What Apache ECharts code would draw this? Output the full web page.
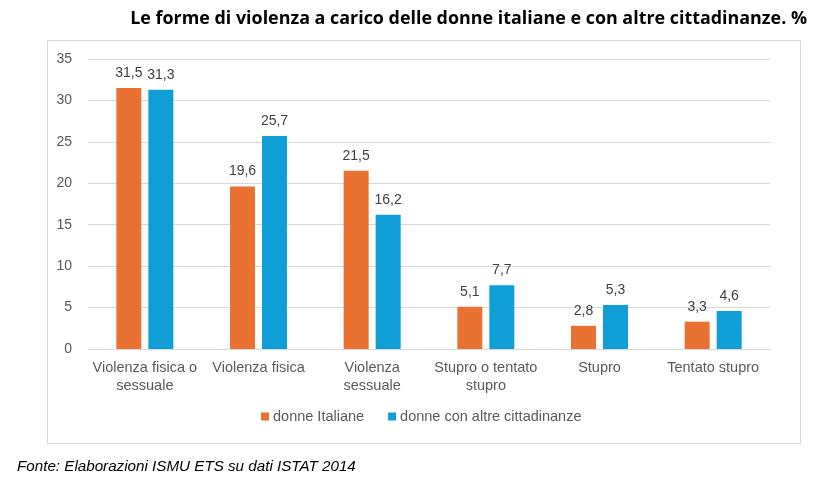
<!DOCTYPE html>
<html><head><meta charset="utf-8">
<script src="https://cdn.jsdelivr.net/npm/echarts@6/dist/echarts.min.js"></script>
<style>html,body{margin:0;padding:0;background:#fff}#c{width:823px;height:492px}</style>
</head><body><div id="c"></div>
<script>
const categories = ['Violenza fisica o\nsessuale', 'Violenza fisica', 'Violenza\nsessuale', 'Stupro o tentato\nstupro', 'Stupro', 'Tentato stupro'];
const italiane = [31.5, 19.6, 21.5, 5.1, 2.8, 3.3];
const altre = [31.3, 25.7, 16.2, 7.7, 5.3, 4.6];
const seriesNames = ['donne Italiane', 'donne con altre cittadinanze'];
const titleText = 'Le forme di violenza a carico delle donne italiane e con altre cittadinanze. %';
const sourceText = 'Fonte: Elaborazioni ISMU ETS su dati ISTAT 2014';

const FONT = 'Liberation Sans';
const chart = echarts.init(document.getElementById('c'));
const lbl = {
  show: true, position: 'top', distance: 8,
  color: '#404040', fontSize: 14, fontFamily: FONT,
  formatter: p => String(p.value).replace('.', ',')
};
chart.setOption({
  animation: false,
  textStyle: { fontFamily: FONT },
  title: {
    text: titleText, right: 11, top: 5,
    textStyle: { fontSize: 17.9, fontWeight: 'bold', color: '#000', fontFamily: 'Open Sans' }
  },
  graphic: [
    { type: 'rect', shape: { x: 47.5, y: 40.5, width: 753, height: 403 },
      style: { fill: 'none', stroke: '#d9d9d9', lineWidth: 1 }, z: -1 },
    { type: 'text', left: 17, top: 459,
      style: { text: sourceText, font: 'italic 15.2px "Liberation Sans"', fill: '#000' } }
  ],
  legend: {
    data: seriesNames, bottom: 63, left: 256,
    itemWidth: 8, itemHeight: 8, itemGap: 24, icon: 'rect',
    textStyle: { color: '#595959', fontSize: 14.5, fontFamily: FONT, padding: [0, 0, 0, -1] }
  },
  grid: { left: 88, right: 53, top: 59, bottom: 143 },
  xAxis: {
    type: 'category', data: categories,
    axisLine: { lineStyle: { color: '#d9d9d9' } },
    axisTick: { show: false },
    axisLabel: { color: '#595959', fontSize: 14.5, fontFamily: FONT, margin: 10, lineHeight: 18, interval: 0 }
  },
  yAxis: {
    type: 'value', min: 0, max: 35, interval: 5,
    axisLine: { show: false }, axisTick: { show: false },
    splitLine: { lineStyle: { color: '#d9d9d9' } },
    axisLabel: { color: '#595959', fontSize: 14, fontFamily: FONT, margin: 16 }
  },
  series: [
    { name: seriesNames[0], type: 'bar', data: italiane, barWidth: 25, barGap: '28%',
      itemStyle: { color: '#E97132' }, label: lbl },
    { name: seriesNames[1], type: 'bar', data: altre, barWidth: 25,
      itemStyle: { color: '#0F9ED5' }, label: lbl }
  ]
});
</script></body></html>
